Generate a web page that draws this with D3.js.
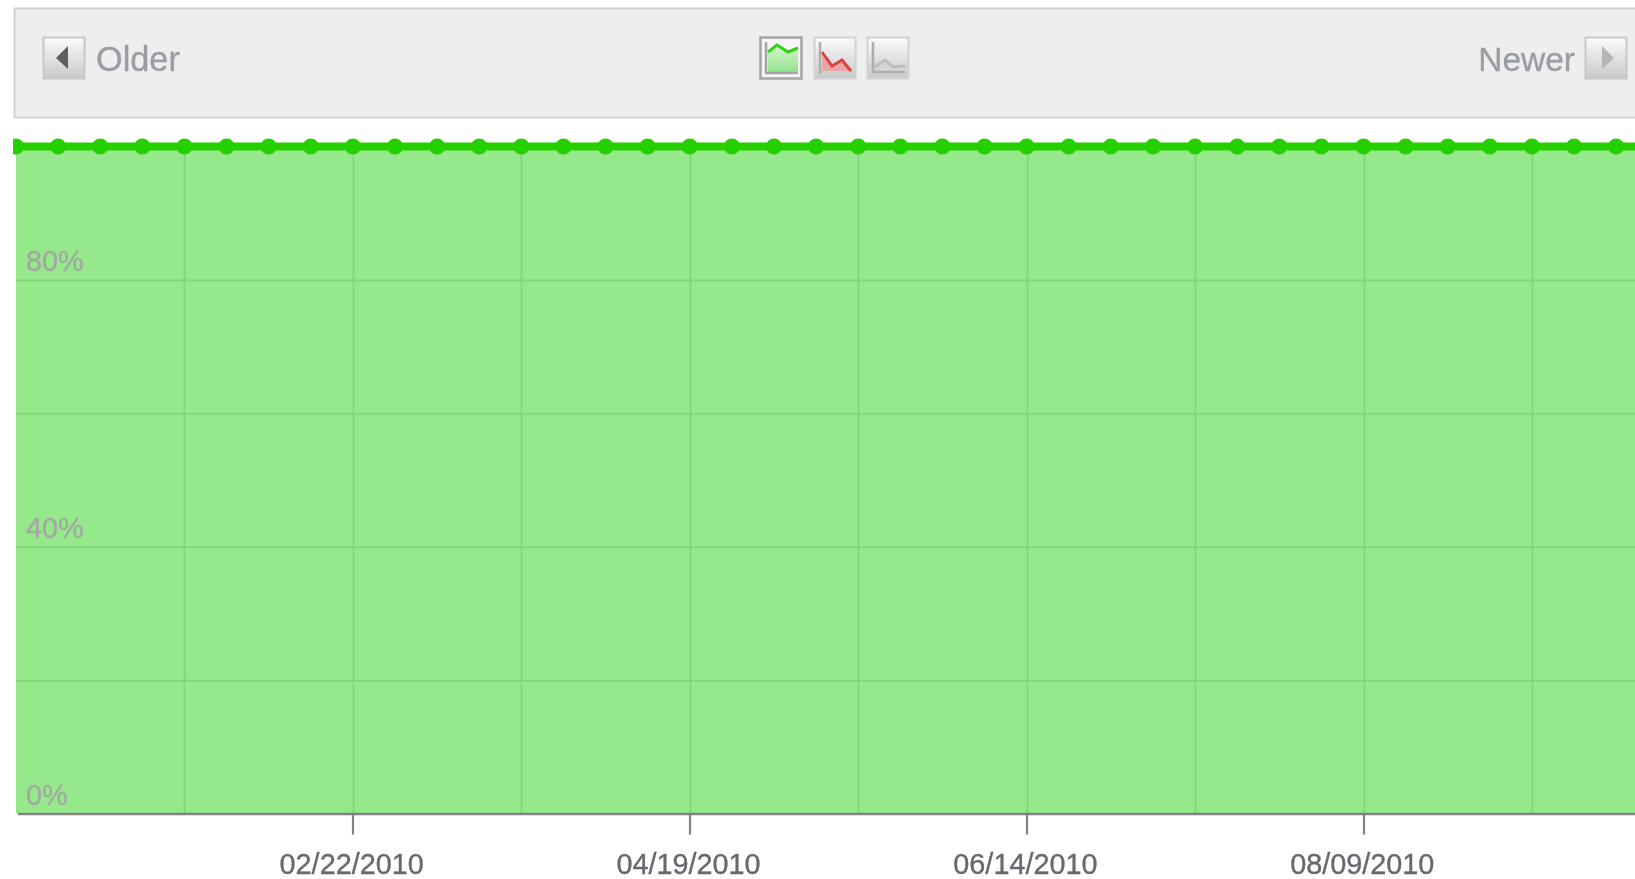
<!DOCTYPE html>
<html>
<head>
<meta charset="utf-8">
<script src="https://cdn.jsdelivr.net/npm/d3@7/dist/d3.min.js"></script>
<style>
html,body{margin:0;padding:0;background:#fff;overflow:hidden}
svg{display:block}
text{font-family:"Liberation Sans",Arial,sans-serif}
</style>
</head>
<body>
<svg id="chart" width="1635" height="879"></svg>
<script>
const weekDates = ["2009-12-28","2010-01-04","2010-01-11","2010-01-18","2010-01-25","2010-02-01","2010-02-08","2010-02-15","2010-02-22","2010-03-01","2010-03-08","2010-03-15","2010-03-22","2010-03-29","2010-04-05","2010-04-12","2010-04-19","2010-04-26","2010-05-03","2010-05-10","2010-05-17","2010-05-24","2010-05-31","2010-06-07","2010-06-14","2010-06-21","2010-06-28","2010-07-05","2010-07-12","2010-07-19","2010-07-26","2010-08-02","2010-08-09","2010-08-16","2010-08-23","2010-08-30","2010-09-06","2010-09-13","2010-09-20","2010-09-27"];
const uptimeValues = [100,100,100,100,100,100,100,100,100,100,100,100,100,100,100,100,100,100,100,100,100,100,100,100,100,100,100,100,100,100,100,100,100,100,100,100,100,100,100,100];
const labelledDates = ["2010-02-22","2010-04-19","2010-06-14","2010-08-09"];
const labelText = ["02/22/2010","04/19/2010","06/14/2010","08/09/2010"];
const gridDates = ["2010-01-25","2010-02-22","2010-03-22","2010-04-19","2010-05-17","2010-06-14","2010-07-12","2010-08-09","2010-09-06"];
const gridValues = [20,40,60,80];
const yLabelValues = [0,40,80];
const navLabels = ["Older","Newer"];

const parse = d3.utcParse("%Y-%m-%d");
const data = weekDates.map((d,i)=>({date:parse(d),value:uptimeValues[i]}));

const W = 1635;
const x = d3.scaleUtc().domain([parse("2009-12-28"),parse("2010-08-09")]).range([16,1363.5]);
const y = d3.scaleLinear().domain([0,100]).range([813.5,146.5]);

const svg = d3.select("#chart");
const defs = svg.append("defs");

const soft = defs.append("filter").attr("id","soft").attr("x","-5%").attr("y","-5%").attr("width","110%").attr("height","110%");
soft.append("feGaussianBlur").attr("stdDeviation",0.7);

const btn = defs.append("linearGradient").attr("id","btn").attr("x1",0).attr("x2",0).attr("y1",0).attr("y2",1);
btn.append("stop").attr("offset","0").attr("stop-color","#fbfbfb");
btn.append("stop").attr("offset","1").attr("stop-color","#c9c9c9");
const icoG = defs.append("linearGradient").attr("id","icoG").attr("x1",0).attr("x2",0).attr("y1",0).attr("y2",1);
icoG.append("stop").attr("offset","0").attr("stop-color","#d6f3d0");
icoG.append("stop").attr("offset","1").attr("stop-color","#8fe488");

defs.append("clipPath").attr("id","plotClip").append("rect").attr("x",13).attr("y",120).attr("width",W).attr("height",700);

const root = svg.append("g").attr("filter","url(#soft)");

/* toolbar */
const bar = root.append("g");
bar.append("rect").attr("x",14.5).attr("y",8.5).attr("width",W+20).attr("height",109)
  .attr("fill","#eeeeee").attr("stroke","#d2d2d2").attr("stroke-width",2);

function navButton(bx,dir,fillCol){
  const g = bar.append("g").attr("transform",`translate(${bx},37)`);
  g.append("rect").attr("x",.5).attr("y",.5).attr("width",41).attr("height",41)
   .attr("fill","url(#btn)").attr("stroke","#c8c8c8").attr("stroke-width",2);
  g.append("path").attr("d",dir<0?"M13,21 L25,9 L25,32 Z":"M29,21 L17,9 L17,32 Z").attr("fill",fillCol);
}
navButton(43,-1,"#5f5f5f");
navButton(1585,1,"#b5b5b5");

bar.append("text").attr("x",96).attr("y",71).attr("font-size",34.3).attr("fill","#9a9da3")
  .attr("stroke","#9a9da3").attr("stroke-width",0.35).text(navLabels[0]);
bar.append("text").attr("x",1575).attr("y",71).attr("text-anchor","end").attr("font-size",33.5).attr("fill","#9a9da3")
  .attr("stroke","#9a9da3").attr("stroke-width",0.35).text(navLabels[1]);

function icon(ix,opts){
  const g = bar.append("g").attr("transform",`translate(${ix},37)`);
  g.append("rect").attr("x",.5).attr("y",.5).attr("width",41).attr("height",41)
   .attr("fill",opts.selected?"#f4f4f4":"url(#btn)")
   .attr("stroke",opts.selected?"#a4a4a4":"#d2d2d2").attr("stroke-width",opts.selected?2.5:2);
  if(opts.selected) g.append("rect").attr("x",3).attr("y",3).attr("width",36).attr("height",36).attr("fill","#f7f7f7").attr("stroke","none");
  g.append("path").attr("d",opts.area).attr("fill",opts.fill);
  g.append("path").attr("d",opts.line).attr("fill","none").attr("stroke",opts.stroke).attr("stroke-width",3);
  g.append("path").attr("d",opts.axisPath).attr("fill","none").attr("stroke",opts.axis).attr("stroke-width",2.5);
}
const shapeA = "M8,15 L17,8 L28,15 L38,11";
icon(760,{selected:true,line:shapeA,area:shapeA+" V36 H8 Z",fill:"url(#icoG)",stroke:"#33cf1c",axis:"#a4a4a4",axisPath:"M6,5 V36 H38"});
const shapeB = "M8,15 L18,29 L28,23 L37,34";
icon(814,{line:shapeB,area:shapeB+" V34 H8 Z",fill:"#e9a6a6",stroke:"#dc4444",axis:"#adadad",axisPath:"M6,5 V35 H8"});
const shapeC = "M8,30 L18,23 L26,30 L38,29";
icon(867,{line:shapeC,area:shapeC+" V34 H8 Z",fill:"#d6d6d6",stroke:"#bdbdbd",axis:"#adadad",axisPath:"M6,5 V35 H38"});

/* plot */
const plot = root.append("g").attr("clip-path","url(#plotClip)");
const area = d3.area().x(d=>x(d.date)).y0(y(0)).y1(d=>y(d.value));
const line = d3.line().x(d=>x(d.date)).y(d=>y(d.value));

plot.append("path").datum(data).attr("d",area).attr("fill","#95e98b");

plot.selectAll("line.h").data(gridValues).join("line").attr("class","h")
  .attr("x1",16).attr("x2",W).attr("y1",d=>y(d)+.5).attr("y2",d=>y(d)+.5)
  .attr("stroke","#7fd57a").attr("stroke-width",1.6);
plot.selectAll("line.v").data(gridDates).join("line").attr("class","v")
  .attr("x1",d=>Math.round(x(parse(d)))+.5).attr("x2",d=>Math.round(x(parse(d)))+.5)
  .attr("y1",y(100)).attr("y2",y(0))
  .attr("stroke","#7fd57a").attr("stroke-width",1.6);

plot.append("path").datum(data).attr("d",line).attr("fill","none").attr("stroke","#28d000").attr("stroke-width",8);
plot.selectAll("circle").data(data).join("circle")
  .attr("cx",d=>x(d.date)).attr("cy",d=>y(d.value)).attr("r",8).attr("fill","#28d000");

/* y labels */
root.selectAll("text.yl").data(yLabelValues).join("text").attr("class","yl")
  .attr("x",26).attr("y",d=>y(d)-9)
  .attr("font-size",28.8).attr("fill","#a3a8a3").attr("stroke","#a3a8a3").attr("stroke-width",0.35)
  .text(d=>d3.format("d")(d)+"%");

/* x axis */
const axisG = root.append("g").attr("transform",`translate(0,${y(0)})`);
axisG.append("line").attr("x1",18).attr("x2",W).attr("y1",.5).attr("y2",.5).attr("stroke","#828282").attr("stroke-width",2.4);
axisG.selectAll("line.t").data(labelledDates).join("line").attr("class","t")
  .attr("x1",d=>Math.round(x(parse(d)))).attr("x2",d=>Math.round(x(parse(d))))
  .attr("y1",1).attr("y2",21).attr("stroke","#828282").attr("stroke-width",2.2);
axisG.selectAll("text").data(labelledDates).join("text")
  .attr("x",d=>x(parse(d))-1.2).attr("y",60).attr("text-anchor","middle")
  .attr("font-size",28.8).attr("fill","#66696e").attr("stroke","#66696e").attr("stroke-width",0.35)
  .text((d,i)=>labelText[i]);
</script>
</body>
</html>
